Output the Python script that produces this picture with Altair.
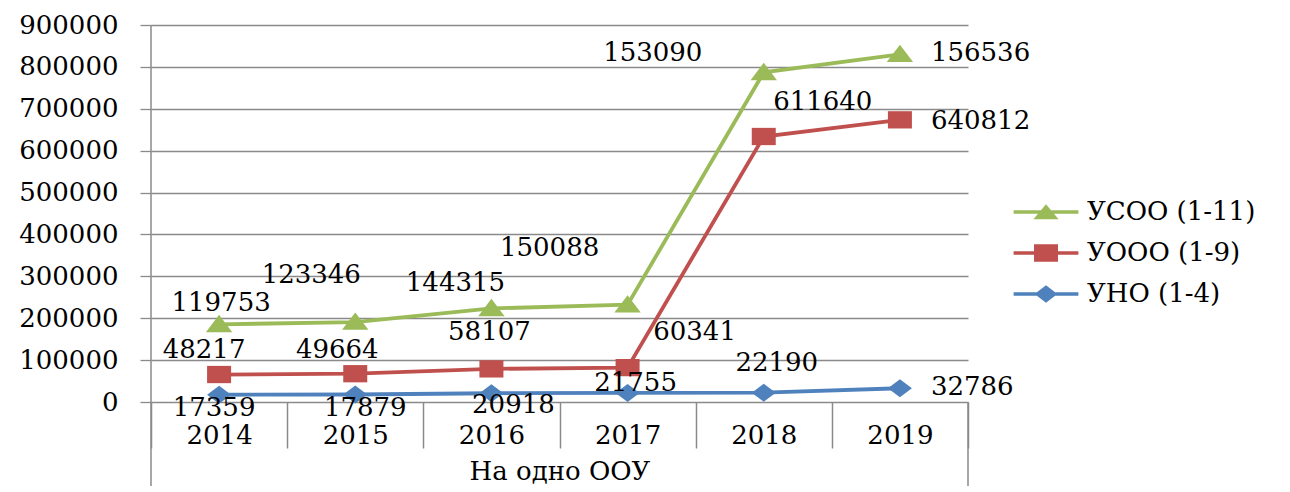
import altair as alt
import pandas as pd

# ---- data ----
years = ["2014", "2015", "2016", "2017", "2018", "2019"]
series_names = ["УСОО (1-11)", "УООО (1-9)", "УНО (1-4)"]
uno_values = [17359, 17879, 20918, 21755, 22190, 32786]
uooo_values = [48217, 49664, 58107, 60341, 611640, 640812]
usoo_values = [119753, 123346, 144315, 150088, 153090, 156536]
series_colors = ["#9BBB59", "#C0504D", "#4F81BD"]
y_tick_values = [0, 100000, 200000, 300000, 400000, 500000, 600000, 700000, 800000, 900000]
x_title = "На одно ООУ"

FONT = "DejaVu Serif"
FS = 26
GRID = "#8a8a8a"
W, H = 817, 377

# stacked table (Excel "stacked line")
rows = []
stack_order = [("УНО (1-4)", uno_values), ("УООО (1-9)", uooo_values), ("УСОО (1-11)", usoo_values)]
for i, yr in enumerate(years):
    cum = 0
    for name, vals in stack_order:
        cum += vals[i]
        rows.append({"year": yr, "series": name, "value": vals[i], "cum": cum, "label": str(vals[i])})
df = pd.DataFrame(rows)

# label placement (style: pixel offsets from each point)
label_offsets = {
    "УНО (1-4)": [(-5, 13), (10, 13), (22, 12), (8, -10), (13, -30), (31, -1)],
    "УООО (1-9)": [(-15, -25), (-18, -24), (-2, -37), (67, -36), (59, -34), (31, 1)],
    "УСОО (1-11)": [(2, -21), (-44, -47), (-36, -25), (-78, -57), (-111, -19), (31, -1)],
}

# marker shapes
tri = "M0,-0.8L1.1,0.65L-1.1,0.65Z"
sq = "M-1,-0.72H1V0.72H-1Z"
dia = "M0,-0.75L1,0L0,0.75L-1,0Z"
bar = "M-2.7,-0.15H2.7V0.15H-2.7Z"
leg_tri = bar + "M0,-0.65L1.05,0.6L-1.05,0.6Z"
leg_sq = bar + "M-1,-0.72H1V0.72H-1Z"
leg_dia = bar + "M0,-0.72L0.95,0L0,0.72L-0.95,0Z"

x_enc = alt.X(
    "year:N",
    sort=years,
    scale=alt.Scale(type="band", paddingInner=0, paddingOuter=0),
    axis=alt.Axis(
        title=x_title, labelAngle=0, tickBand="extent", tickSize=46, tickColor=GRID,
        tickWidth=1.5, domain=False, grid=False, labelFont=FONT, labelFontSize=FS,
        labelColor="black", labelPadding=-13, labelBaseline="middle",
        titleFont=FONT, titleFontSize=FS, titleFontWeight="normal", titleColor="black",
        titleY=69, titleBaseline="middle",
    ),
)
y_enc = alt.Y(
    "cum:Q",
    scale=alt.Scale(domain=[0, 900000], nice=False),
    axis=alt.Axis(
        values=y_tick_values, format="d", grid=True, gridColor=GRID, gridWidth=1.3,
        tickSize=11, tickColor=GRID, tickWidth=1.3, domain=False, labelFont=FONT,
        labelFontSize=FS, labelColor="black", labelPadding=22, title=None,
    ),
)
color_scale = alt.Scale(domain=series_names, range=series_colors)

lines = alt.Chart(df).mark_line(strokeWidth=3.8).encode(
    x=x_enc,
    y=y_enc,
    color=alt.Color("series:N", scale=color_scale, legend=None),
    detail="series:N",
)

points = alt.Chart(df).mark_point(filled=True, size=576, opacity=1, strokeWidth=0).encode(
    x=x_enc,
    y=y_enc,
    color=alt.Color("series:N", scale=color_scale, legend=None),
    shape=alt.Shape("series:N", scale=alt.Scale(domain=series_names, range=[tri, sq, dia]), legend=None),
)

legend_kw = dict(
    orient="none", legendX=882, legendY=174, title=None,
    labelFont=FONT, labelFontSize=FS, labelColor="black", labelLimit=400,
    symbolSize=576, labelOffset=28, rowPadding=15, symbolStrokeWidth=0,
    symbolOpacity=1,
)
legend_layer = alt.Chart(df).transform_filter("false").mark_point(
    filled=True, size=576, opacity=1, strokeWidth=0
).encode(
    x=x_enc,
    y=y_enc,
    color=alt.Color("series:N", scale=color_scale, legend=alt.Legend(**legend_kw)),
    shape=alt.Shape("series:N", scale=alt.Scale(domain=series_names, range=[leg_tri, leg_sq, leg_dia]),
                    legend=alt.Legend(**legend_kw)),
)

text_layers = []
for s in series_names:
    for i, yr in enumerate(years):
        dx, dy = label_offsets[s][i]
        align = "left" if i == len(years) - 1 else "center"
        text_layers.append(
            alt.Chart(df)
            .transform_filter(f"datum.series == '{s}' && datum.year == '{yr}'")
            .mark_text(dx=dx, dy=dy, align=align, baseline="middle", font=FONT, fontSize=FS, color="black")
            .encode(x=x_enc, y=y_enc, text="label:N")
        )

frame_df = pd.DataFrame({"k": [0]})
left_line = alt.Chart(frame_df).mark_rule(color=GRID, strokeWidth=1.5).encode(
    x=alt.value(0), y=alt.value(0), y2=alt.value(H + 95)
)
right_line = alt.Chart(frame_df).mark_rule(color=GRID, strokeWidth=1.5).encode(
    x=alt.value(W), y=alt.value(H), y2=alt.value(H + 95)
)

chart = alt.layer(lines, points, legend_layer, *text_layers, left_line, right_line).resolve_scale(
    color="independent", shape="independent"
).properties(
    width=W, height=H,
    padding={"left": 143, "top": 17, "right": 310, "bottom": 84},
    autosize=alt.AutoSizeParams(type="none"),
    background="white",
).configure_view(strokeWidth=0)

chart.save("out.html", embed_options={"renderer": "svg", "actions": False})
